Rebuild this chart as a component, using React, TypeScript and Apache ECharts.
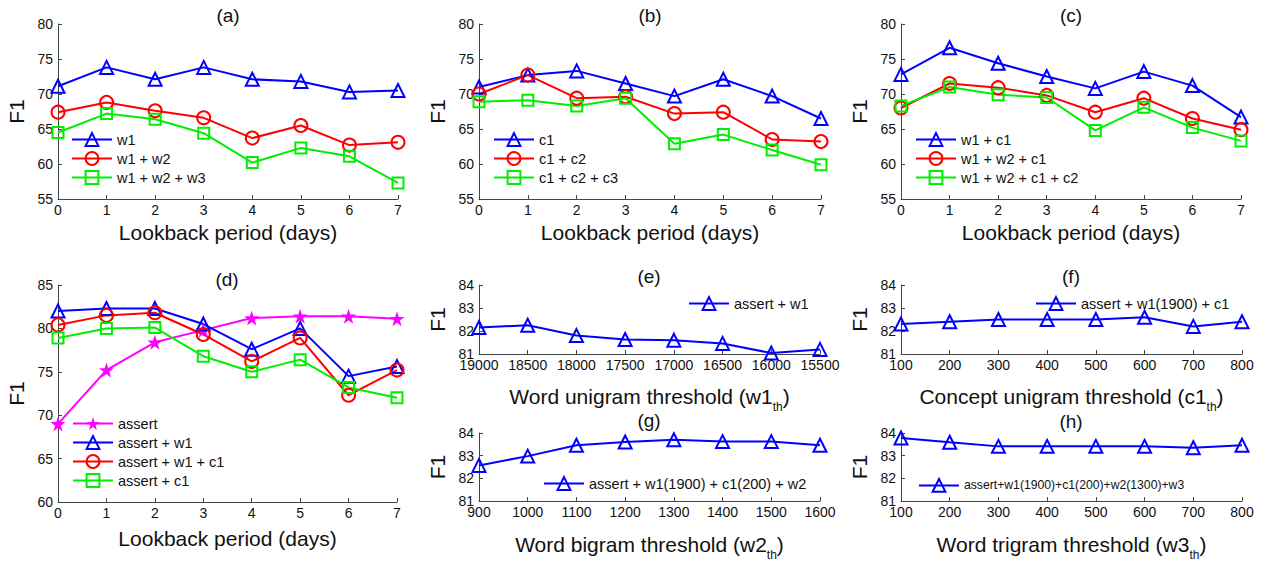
import React, { useEffect, useRef } from 'react';
import * as echarts from 'echarts';

// ---------- data ----------
const days = [0, 1, 2, 3, 4, 5, 6, 7];
const aW1 = [71.1, 73.8, 72.1, 73.8, 72.1, 71.8, 70.3, 70.5];
const aW1W2 = [67.4, 68.8, 67.6, 66.6, 63.7, 65.5, 62.7, 63.1];
const aW1W2W3 = [64.5, 67.2, 66.4, 64.4, 60.2, 62.3, 61.1, 57.3];
const bC1 = [71.0, 72.7, 73.3, 71.5, 69.7, 72.1, 69.7, 66.5];
const bC1C2 = [70.0, 72.7, 69.4, 69.6, 67.2, 67.4, 63.5, 63.2];
const bC1C2C3 = [68.9, 69.1, 68.3, 69.4, 62.9, 64.2, 62.0, 59.9];
const cW1C1 = [72.8, 76.6, 74.4, 72.5, 70.8, 73.2, 71.2, 66.7];
const cW1W2C1 = [68.0, 71.5, 70.9, 69.8, 67.4, 69.4, 66.5, 64.9];
const cW1W2C1C2 = [68.3, 71.0, 69.9, 69.5, 64.8, 68.1, 65.2, 63.3];
const dAssert = [69.0, 75.2, 78.4, 79.8, 81.2, 81.4, 81.4, 81.1];
const dAssertW1 = [82.0, 82.3, 82.3, 80.5, 77.6, 80.0, 74.5, 75.6];
const dAssertW1C1 = [80.4, 81.5, 81.8, 79.3, 76.2, 78.9, 72.3, 75.2];
const dAssertC1 = [78.9, 80.0, 80.1, 76.8, 75.0, 76.4, 73.2, 72.0];
const eThresh = [19000, 18500, 18000, 17500, 17000, 16500, 16000, 15500];
const eF1 = [82.15, 82.25, 81.8, 81.63, 81.6, 81.46, 81.04, 81.2];
const fThresh = [100, 200, 300, 400, 500, 600, 700, 800];
const fF1 = [82.3, 82.4, 82.5, 82.5, 82.5, 82.6, 82.2, 82.4];
const gThresh = [900, 1000, 1100, 1200, 1300, 1400, 1500, 1600];
const gF1 = [82.57, 82.98, 83.46, 83.6, 83.7, 83.62, 83.62, 83.46];
const hThresh = [100, 200, 300, 400, 500, 600, 700, 800];
const hF1 = [83.78, 83.59, 83.41, 83.41, 83.41, 83.41, 83.35, 83.46];

const panelTitles = ['(a)', '(b)', '(c)', '(d)', '(e)', '(f)', '(g)', '(h)'];
const lookbackName = 'Lookback period (days)';

// ---------- styles ----------
const FONT = '"Liberation Sans", Arial, Helvetica, sans-serif';
const BLUE = '#0000ff';
const RED = '#ff0000';
const GREEN = '#00ee00';
const MAGENTA = '#ff00ff';
const STAR = 'path://M50,0 L61.8,35.4 L99,35.4 L69,57.3 L80.4,92.7 L50,70.8 L19.6,92.7 L31,57.3 L1,35.4 L38.2,35.4 Z';

const MARK = {
  tri: { symbol: 'triangle', size: 13, fill: 'rgba(0,0,0,0)' },
  circ: { symbol: 'circle', size: 13, fill: 'rgba(0,0,0,0)' },
  sq: { symbol: 'rect', size: 11, fill: 'rgba(0,0,0,0)' },
  star: { symbol: STAR, size: 15, fill: MAGENTA },
};

const panels = [
  { left: 58, top: 24, width: 340, height: 175, ymin: 55, ymax: 80, yint: 5, xmin: 0, xmax: 7, xint: 1, inverse: false, xName: lookbackName, nameGap: 23, tx: 228, ty: 15 },
  { left: 479, top: 24, width: 342, height: 175, ymin: 55, ymax: 80, yint: 5, xmin: 0, xmax: 7, xint: 1, inverse: false, xName: lookbackName, nameGap: 23, tx: 650, ty: 15 },
  { left: 901, top: 24, width: 340, height: 175, ymin: 55, ymax: 80, yint: 5, xmin: 0, xmax: 7, xint: 1, inverse: false, xName: lookbackName, nameGap: 23, tx: 1071, ty: 15 },
  { left: 58, top: 285, width: 339, height: 217, ymin: 60, ymax: 85, yint: 5, xmin: 0, xmax: 7, xint: 1, inverse: false, xName: lookbackName, nameGap: 26, tx: 227, ty: 279 },
  { left: 479, top: 285, width: 341, height: 69, ymin: 81, ymax: 84, yint: 1, xmin: 15500, xmax: 19000, xint: 500, inverse: true, xName: '{a|Word unigram threshold (w1}{s|th}{a|)}', nameGap: 32, tx: 649, ty: 276 },
  { left: 901, top: 285, width: 341, height: 69, ymin: 81, ymax: 84, yint: 1, xmin: 100, xmax: 800, xint: 100, inverse: false, xName: '{a|Concept unigram threshold (c1}{s|th}{a|)}', nameGap: 32, tx: 1071, ty: 276 },
  { left: 479, top: 433, width: 341, height: 68, ymin: 81, ymax: 84, yint: 1, xmin: 900, xmax: 1600, xint: 100, inverse: false, xName: '{a|Word bigram threshold (w2}{s|th}{a|)}', nameGap: 33, tx: 649, ty: 420 },
  { left: 901, top: 433, width: 341, height: 68, ymin: 81, ymax: 84, yint: 1, xmin: 100, xmax: 800, xint: 100, inverse: false, xName: '{a|Word trigram threshold (w3}{s|th}{a|)}', nameGap: 33, tx: 1071, ty: 421 },
];

function mk(name: string, xs: number[], ys: number[], idx: number, color: string, m: any) {
  return {
    type: 'line',
    name,
    xAxisIndex: idx,
    yAxisIndex: idx,
    data: xs.map((x, i) => [x, ys[i]]),
    symbol: m.symbol,
    symbolSize: m.size,
    showAllSymbol: true,
    lineStyle: { color, width: 2 },
    itemStyle: { color: m.fill, borderColor: color, borderWidth: m.fill === color ? 0 : 2 },
    emphasis: { disabled: true },
    silent: true,
  };
}

const series = [
  mk('w1', days, aW1, 0, BLUE, MARK.tri),
  mk('w1 + w2', days, aW1W2, 0, RED, MARK.circ),
  mk('w1 + w2 + w3', days, aW1W2W3, 0, GREEN, MARK.sq),
  mk('c1', days, bC1, 1, BLUE, MARK.tri),
  mk('c1 + c2', days, bC1C2, 1, RED, MARK.circ),
  mk('c1 + c2 + c3', days, bC1C2C3, 1, GREEN, MARK.sq),
  mk('w1 + c1', days, cW1C1, 2, BLUE, MARK.tri),
  mk('w1 + w2 + c1', days, cW1W2C1, 2, RED, MARK.circ),
  mk('w1 + w2 + c1 + c2', days, cW1W2C1C2, 2, GREEN, MARK.sq),
  mk('assert', days, dAssert, 3, MAGENTA, MARK.star),
  mk('assert + w1', days, dAssertW1, 3, BLUE, MARK.tri),
  mk('assert + w1 + c1', days, dAssertW1C1, 3, RED, MARK.circ),
  mk('assert + c1', days, dAssertC1, 3, GREEN, MARK.sq),
  mk('assert + w1', eThresh, eF1, 4, BLUE, MARK.tri),
  mk('assert + w1(1900) + c1', fThresh, fF1, 5, BLUE, MARK.tri),
  mk('assert + w1(1900) + c1(200) + w2', gThresh, gF1, 6, BLUE, MARK.tri),
  mk('assert+w1(1900)+c1(200)+w2(1300)+w3', hThresh, hF1, 7, BLUE, MARK.tri),
];

const legendDefs = [
  { data: ['w1', 'w1 + w2', 'w1 + w2 + w3'], left: 71, top: 132, fs: 14.5 },
  { data: ['c1', 'c1 + c2', 'c1 + c2 + c3'], left: 493, top: 132, fs: 14.5 },
  { data: ['w1 + c1', 'w1 + w2 + c1', 'w1 + w2 + c1 + c2'], left: 915, top: 132, fs: 14.5 },
  { data: ['assert', 'assert + w1', 'assert + w1 + c1', 'assert + c1'], left: 72, top: 416, fs: 14.5 },
  { data: ['assert + w1'], left: 688, top: 296, fs: 14.5 },
  { data: ['assert + w1(1900) + c1'], left: 1035, top: 296, fs: 14.5 },
  { data: ['assert + w1(1900) + c1(200) + w2'], left: 543, top: 476, fs: 14.5 },
  { data: ['assert+w1(1900)+c1(200)+w2(1300)+w3'], left: 918, top: 478, fs: 12.2 },
];

const AXIS_COLOR = '#444';

export default function App() {
  const ref = useRef<HTMLDivElement>(null);
  useEffect(() => {
    if (!ref.current) return;
    const chart = echarts.init(ref.current, undefined, { renderer: 'svg' });
    const option: any = {
      animation: false,
      backgroundColor: '#ffffff',
      textStyle: { fontFamily: FONT },
      grid: panels.map((p) => ({
        left: p.left, top: p.top, width: p.width, height: p.height,
        containLabel: false, outerBoundsMode: 'none',
      })),
      xAxis: panels.map((p, i) => ({
        type: 'value', gridIndex: i, min: p.xmin, max: p.xmax, interval: p.xint, inverse: p.inverse,
        name: p.xName, nameLocation: 'middle', nameGap: p.nameGap, nameMoveOverlap: false,
        nameTextStyle: {
          fontSize: 21, color: '#111', fontFamily: FONT,
          rich: {
            a: { fontSize: 21, color: '#111', fontFamily: FONT, lineHeight: 24, verticalAlign: 'top' },
            s: { fontSize: 12, color: '#111', fontFamily: FONT, lineHeight: 14, verticalAlign: 'top', padding: [15, 0, 0, 0] },
          },
        },
        axisLine: { show: true, onZero: false, lineStyle: { color: AXIS_COLOR, width: 1 } },
        axisTick: { show: true, inside: true, length: 4, lineStyle: { color: AXIS_COLOR } },
        axisLabel: {
          show: true, margin: 5, fontSize: 14, lineHeight: 12, color: '#111', fontFamily: FONT, hideOverlap: false,
          formatter: (v: number) => String(v),
        },
        splitLine: { show: false },
      })),
      yAxis: panels.map((p, i) => ({
        type: 'value', gridIndex: i, min: p.ymin, max: p.ymax, interval: p.yint,
        name: 'F1', nameLocation: 'middle', nameGap: 31, nameMoveOverlap: false,
        nameTextStyle: { fontSize: 21, color: '#111', fontFamily: FONT },
        axisLine: { show: true, onZero: false, lineStyle: { color: AXIS_COLOR, width: 1 } },
        axisTick: { show: true, inside: true, length: 4, lineStyle: { color: AXIS_COLOR } },
        axisLabel: {
          show: true, margin: 5, fontSize: 14, lineHeight: 10, color: '#111', fontFamily: FONT,
          formatter: (v: number) => String(v),
        },
        splitLine: { show: false },
      })),
      legend: legendDefs.map((l) => ({
        data: l.data, left: l.left, top: l.top, orient: 'vertical',
        itemWidth: 40, itemHeight: 16, itemGap: 4, padding: 0,
        selectedMode: false,
        textStyle: { fontSize: l.fs, color: '#111', fontFamily: FONT },
      })),
      graphic: panels.map((p, i) => ({
        type: 'text', x: p.tx, y: p.ty, silent: true,
        style: {
          text: panelTitles[i], fontSize: 19, fontFamily: FONT, fill: '#111',
          align: 'center', verticalAlign: 'middle', textAlign: 'center', textVerticalAlign: 'middle',
        },
      })),
      series,
    };
    chart.setOption(option);
    return () => chart.dispose();
  }, []);
  return (
    <div
      ref={ref}
      style={{ position: 'absolute', left: 0, top: 0, width: 1266, height: 564, background: '#fff' }}
    />
  );
}
